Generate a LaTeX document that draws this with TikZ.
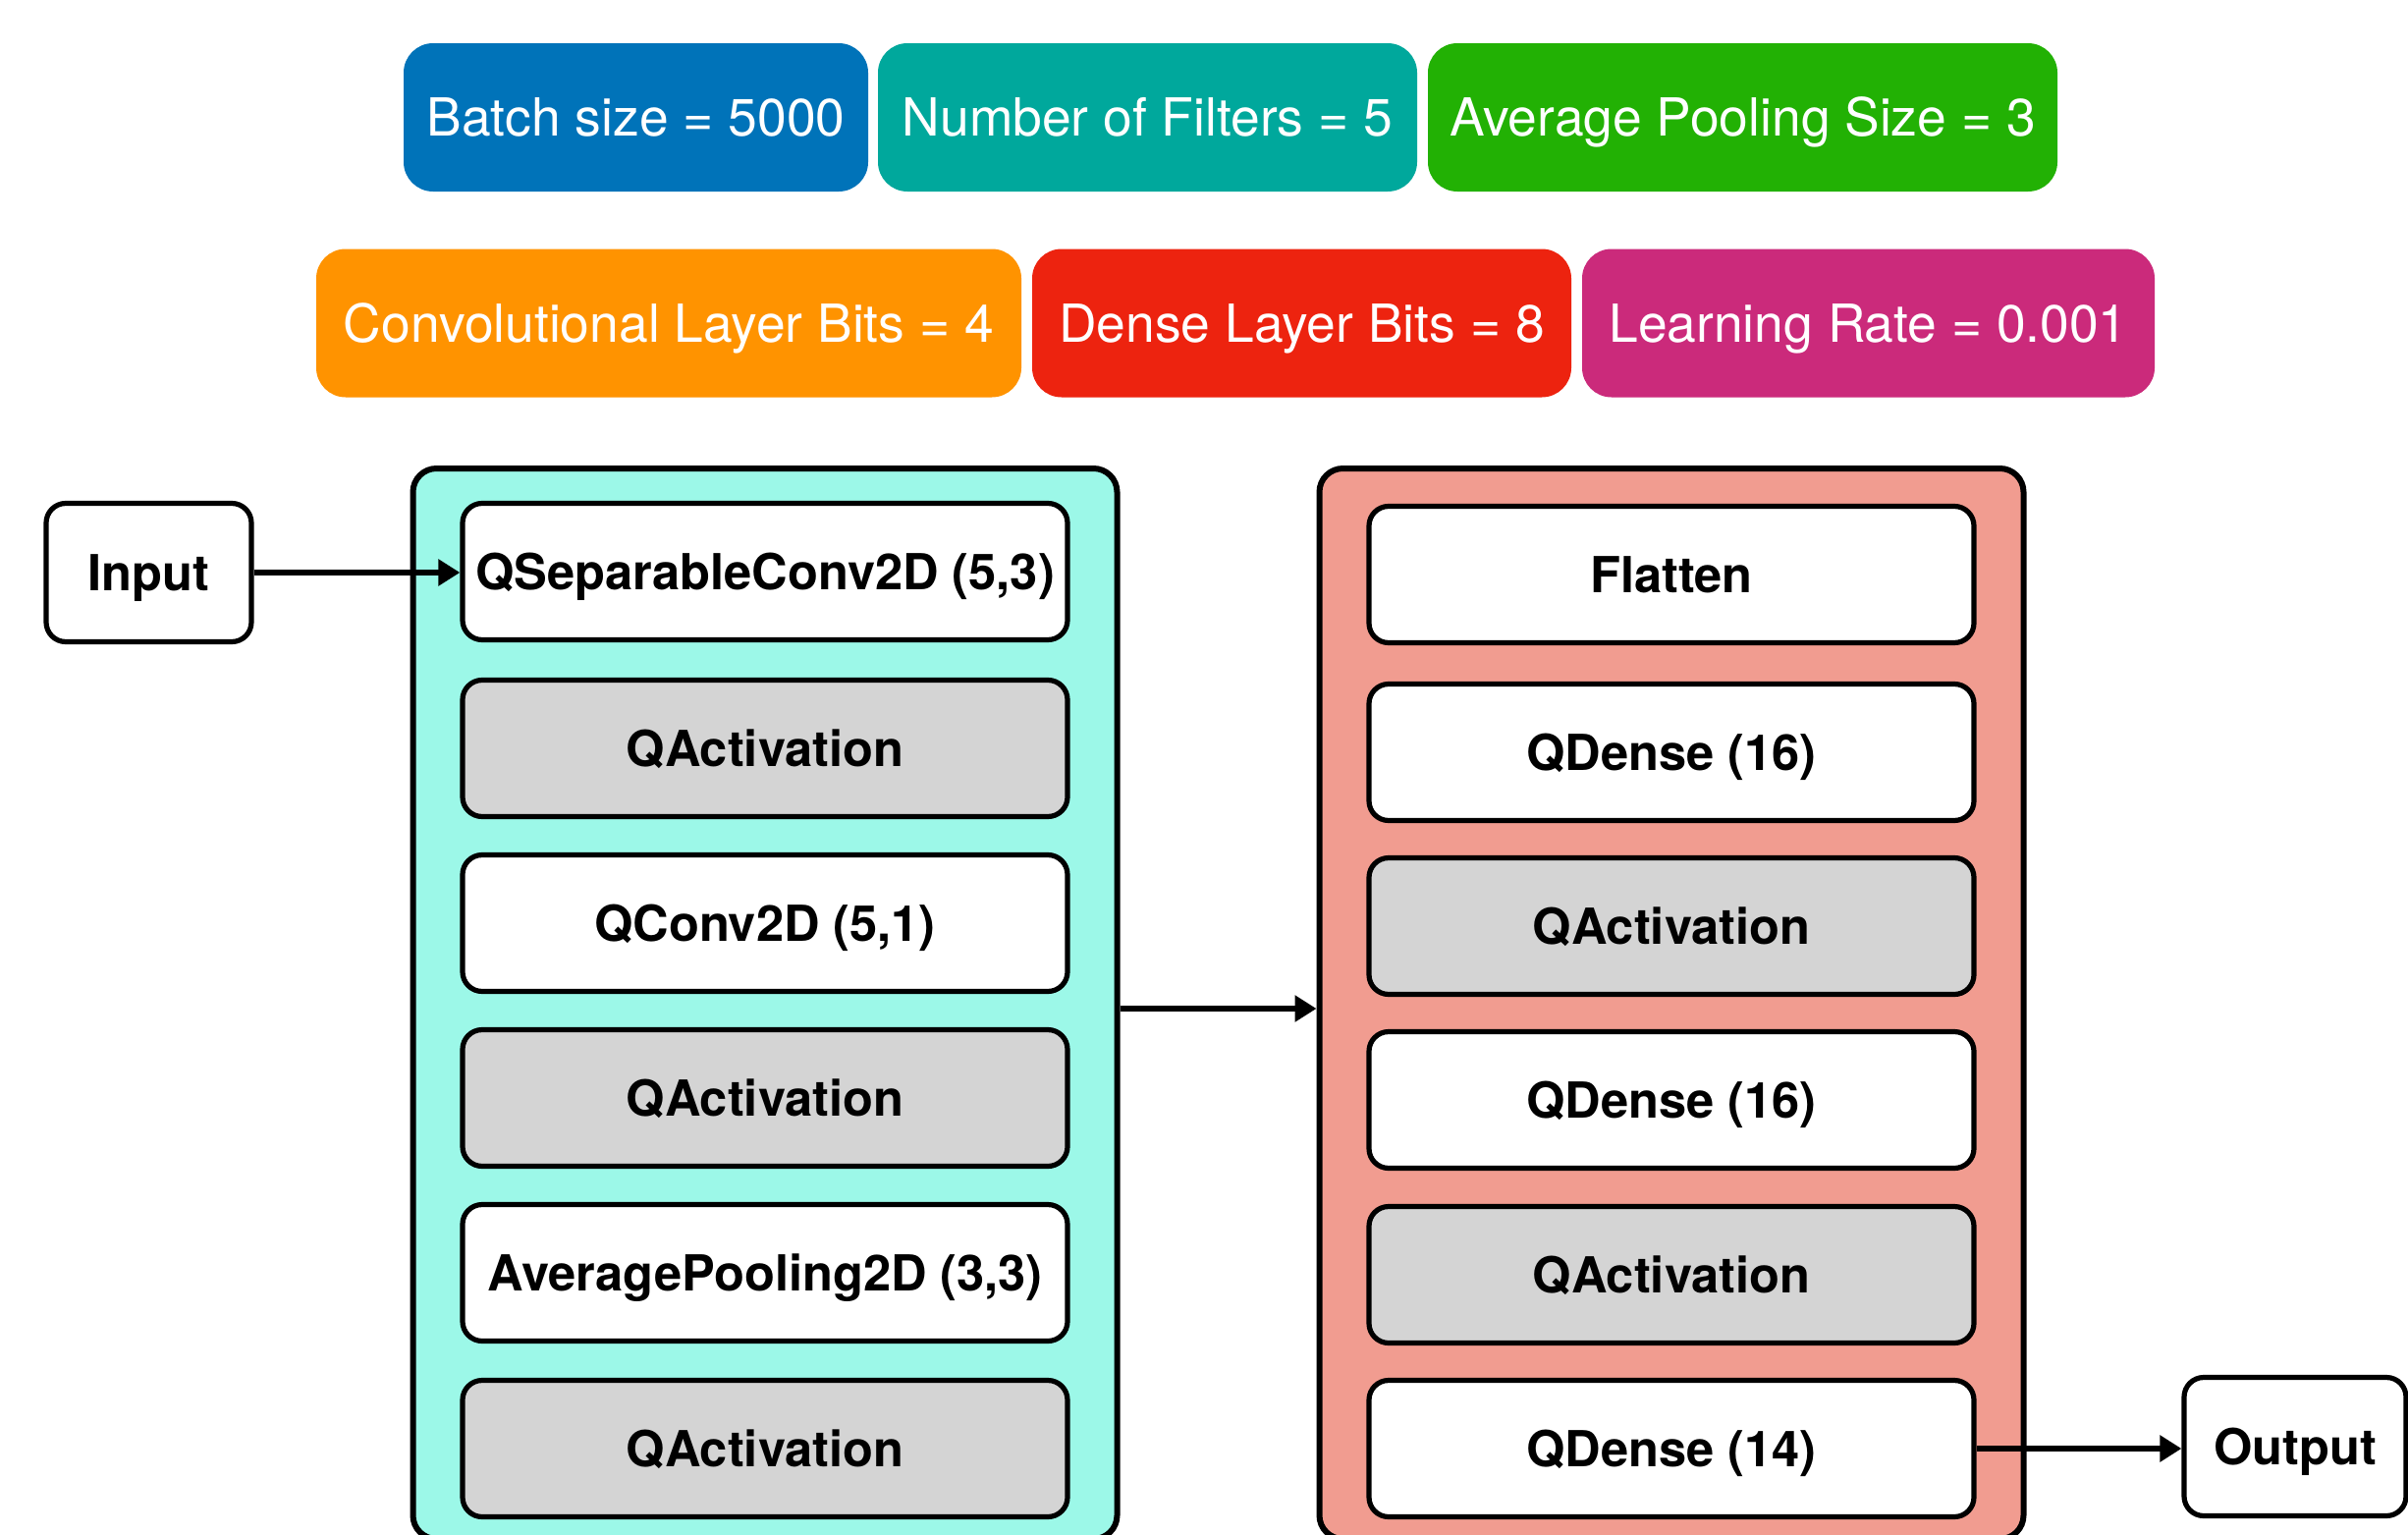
\documentclass[tikz,border=0pt]{standalone}
\usepackage{fontspec}
\setmainfont{TeX Gyre Heros}
\usetikzlibrary{arrows.meta}

\definecolor{cBatch}{RGB}{0,115,185}
\definecolor{cFilt}{RGB}{0,168,156}
\definecolor{cPool}{RGB}{34,177,4}
\definecolor{cConv}{RGB}{255,147,0}
\definecolor{cDense}{RGB}{237,35,15}
\definecolor{cLR}{RGB}{203,42,123}
\definecolor{cCyan}{RGB}{156,248,232}
\definecolor{cSalmon}{RGB}{241,156,144}
\definecolor{cGray}{RGB}{212,212,212}

\tikzset{
  pill/.style={rounded corners=15pt, draw=none, text=white, inner sep=0pt,
    minimum height=75.5pt, text height=19.2pt, text depth=0pt,
    font=\fontsize{26.7}{30}\selectfont},
  group/.style={rounded corners=12pt, draw=black, line width=3pt, inner sep=0pt,
    minimum width=358.5pt, minimum height=545pt},
  layer/.style={rounded corners=10pt, draw=black, line width=2.6pt, fill=white,
    inner sep=0pt, minimum width=308pt, minimum height=69.5pt,
    text height=18.2pt, text depth=0pt,
    font=\bfseries\fontsize{25.3}{28}\selectfont},
  act/.style={layer, fill=cGray},
  io/.style={layer, minimum height=70.5pt},
  arr/.style={line width=2.9pt, -{Triangle[length=11pt,width=13pt]}}
}

\begin{document}
\begin{tikzpicture}[x=0.5pt, y=-0.5pt]
\clip (0,0) rectangle (2452,1563);
\fill[white] (0,0) rectangle (2452,1563);

% hyperparameter tags
\node[pill, fill=cBatch, minimum width=236.5pt] (batch) at (647.5,119.5) {Batch size = 5000};
\node[pill, fill=cFilt,  minimum width=274.5pt] (filt)  at (1168.5,119.5) {Number of Filters = 5};
\node[pill, fill=cPool,  minimum width=320.5pt] (pool)  at (1774.5,119.5) {Average Pooling Size = 3};
\node[pill, fill=cConv,  minimum width=359pt]   (cbits) at (681,329) {Convolutional Layer Bits = 4};
\node[pill, fill=cDense, minimum width=274.5pt] (dbits) at (1325.5,329) {Dense Layer Bits = 8};
\node[pill, fill=cLR,    minimum width=291.5pt] (lr)    at (1902.5,329) {Learning Rate = 0.001};

% layer groups
\node[group, fill=cCyan]   (lc) at (779,1022) {};
\node[group, fill=cSalmon] (rc) at (1702,1022) {};

% convolutional block
\node[layer] (l1) at (779,582)  {QSeparableConv2D (5,3)};
\node[act]   (l2) at (779,762)  {QActivation};
\node[layer] (l3) at (779,940)  {QConv2D (5,1)};
\node[act]   (l4) at (779,1118) {QActivation};
\node[layer] (l5) at (779,1296) {AveragePooling2D (3,3)};
\node[act]   (l6) at (779,1475) {QActivation};

% dense block
\node[layer] (r1) at (1702,585)  {Flatten};
\node[layer] (r2) at (1702,766)  {QDense (16)};
\node[act]   (r3) at (1702,943)  {QActivation};
\node[layer] (r4) at (1702,1120) {QDense (16)};
\node[act]   (r5) at (1702,1298) {QActivation};
\node[layer] (r6) at (1702,1475) {QDense (14)};

% input / output
\node[io, minimum width=104.5pt] (in)  at (151.5,583) {Input};
\node[io, minimum width=113pt]   (out) at (2337,1473) {Output};

% connections
\draw[arr] (in.east) -- (l1.west |- in.east);
\coordinate (mid) at (0,1027);
\draw[arr] (lc.east |- mid) -- (rc.west |- mid);
\draw[arr] (r6.east) -- (out.west |- r6.east);
\end{tikzpicture}
\end{document}
